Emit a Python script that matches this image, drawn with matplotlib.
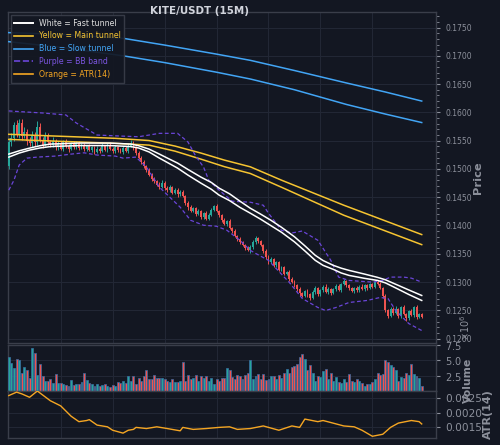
import numpy as np
import matplotlib
matplotlib.use('Agg')
import matplotlib.pyplot as plt
from matplotlib.lines import Line2D
from matplotlib.ticker import MultipleLocator, FormatStrFormatter, ScalarFormatter

BG = '#131722'
GRID = '#232836'
SPINE = '#3a3e4a'
TXT = '#8c909b'
UP = '#26a69a'
DOWN = '#ef5350'
WHITE = '#ffffff'
YELLOW = '#f6c431'
BLUE = '#42a5f5'
PURPLE = '#6a45d8'
ORANGE = '#f5a623'

title = 'KITE/USDT (15M)'

# 15m candles (price), opens follow previous close
first_open = 0.1505
closes = [
    0.1548, 0.1555, 0.1578, 0.1562, 0.1582, 0.1558, 0.1566, 0.1550, 0.1545, 0.1560,
    0.1548, 0.1575, 0.1552, 0.1543, 0.1558, 0.1547, 0.1542, 0.1550, 0.1538, 0.1545,
    0.1536, 0.1548, 0.1540, 0.1535, 0.1544, 0.1539, 0.1546, 0.1537, 0.1542, 0.1535,
    0.1540, 0.1533, 0.1538, 0.1530, 0.1536, 0.1532, 0.1540, 0.1534, 0.1543, 0.1536,
    0.1531, 0.1539, 0.1534, 0.1530, 0.1537, 0.1532, 0.1541, 0.1546, 0.1538, 0.1528,
    0.1520, 0.1512, 0.1505, 0.1498, 0.1490, 0.1483, 0.1478, 0.1472, 0.1468, 0.1475,
    0.1466, 0.1462, 0.1468, 0.1458, 0.1463, 0.1455, 0.1460, 0.1452, 0.1440, 0.1432,
    0.1426, 0.1430, 0.1420, 0.1425, 0.1415, 0.1422, 0.1412, 0.1418, 0.1428, 0.1435,
    0.1425, 0.1418, 0.1410, 0.1402, 0.1408, 0.1396, 0.1390, 0.1382, 0.1376, 0.1370,
    0.1365, 0.1360, 0.1356, 0.1362, 0.1370, 0.1378, 0.1372, 0.1366, 0.1355, 0.1345,
    0.1335, 0.1340, 0.1330, 0.1335, 0.1322, 0.1326, 0.1315, 0.1318, 0.1306, 0.1300,
    0.1295, 0.1288, 0.1280, 0.1276, 0.1284, 0.1278, 0.1272, 0.1282, 0.1290, 0.1278,
    0.1285, 0.1292, 0.1283, 0.1288, 0.1280, 0.1287, 0.1293, 0.1286, 0.1296, 0.1301,
    0.1295, 0.1289, 0.1284, 0.1290, 0.1285, 0.1292, 0.1287, 0.1294, 0.1289, 0.1296,
    0.1292, 0.1300, 0.1297, 0.1290, 0.1275, 0.1250, 0.1240, 0.1252, 0.1245, 0.1252,
    0.1240, 0.1255, 0.1243, 0.1236, 0.1248, 0.1242, 0.1256, 0.1238, 0.1244, 0.1239,
]
# wick lengths above / below the body, in units of 0.0001
upper_wick = [
    6, 8, 5, 9, 7, 6, 8, 5, 6, 7, 5, 9, 6, 4, 7, 5, 4, 6, 3, 5,
    4, 3, 5, 4, 3, 5, 3, 4, 3, 4, 3, 4, 2, 3, 4, 3, 5, 2, 3, 4,
    3, 4, 2, 3, 4, 3, 5, 6, 3, 2, 3, 2, 3, 2, 4, 3, 2, 3, 4, 5,
    3, 4, 3, 2, 4, 3, 2, 3, 2, 3, 4, 3, 2, 4, 3, 2, 3, 4, 3, 2,
    3, 2, 3, 4, 2, 3, 2, 3, 2, 3, 2, 3, 4, 3, 4, 3, 2, 3, 2, 3,
    2, 4, 3, 2, 3, 2, 3, 2, 3, 2, 3, 2, 4, 3, 2, 3, 2, 4, 3, 2,
    3, 2, 4, 3, 2, 3, 4, 3, 2, 4, 3, 2, 3, 2, 3, 2, 4, 3, 2, 3,
    2, 4, 3, 3, 2, 3, 2, 4, 3, 5, 2, 3, 4, 2, 3, 4, 2, 3, 2, 2,
]
lower_wick = [
    5, 7, 6, 5, 8, 6, 4, 7, 5, 6, 8, 5, 4, 6, 3, 5, 4, 3, 5, 4,
    3, 4, 3, 5, 2, 3, 4, 3, 2, 4, 3, 2, 3, 4, 2, 3, 2, 3, 4, 2,
    3, 2, 4, 2, 3, 2, 3, 2, 4, 3, 2, 4, 3, 3, 2, 4, 3, 2, 3, 2,
    4, 2, 3, 3, 2, 4, 3, 2, 3, 4, 2, 3, 4, 2, 3, 4, 2, 3, 2, 3,
    2, 3, 4, 2, 3, 2, 3, 2, 4, 3, 2, 3, 2, 4, 3, 2, 3, 2, 3, 4,
    3, 2, 3, 4, 2, 3, 2, 3, 4, 2, 3, 4, 5, 3, 2, 4, 3, 2, 3, 2,
    2, 3, 2, 4, 3, 2, 3, 2, 3, 2, 3, 4, 2, 3, 2, 3, 2, 3, 4, 2,
    3, 2, 3, 2, 3, 3, 4, 2, 3, 2, 4, 3, 2, 5, 3, 2, 4, 3, 2, 3,
]
# volume, millions
volume_m = [
    5.57, 4.52, 3.72, 5.2, 5.05, 2.92, 3.98, 3.45, 2.13, 7.06,
    6.2, 2.66, 4.36, 2.5, 1.6, 1.6, 1.97, 1.33, 2.77, 1.23,
    1.33, 1.07, 0.91, 0.8, 1.7, 0.91, 1.07, 1.07, 1.44, 2.92,
    1.76, 1.2, 1.07, 0.8, 1.07, 0.7, 0.91, 1.07, 0.8, 0.54,
    0.91, 0.8, 1.44, 1.23, 1.6, 1.33, 2.4, 1.6, 2.5, 1.07,
    2.13, 1.6, 2.4, 3.35, 1.97, 1.86, 2.66, 2.13, 2.13, 2.13,
    1.97, 1.6, 1.5, 1.97, 1.44, 1.44, 1.6, 4.78, 1.6, 2.66,
    1.86, 2.13, 2.66, 1.6, 2.5, 2.13, 2.4, 1.6, 2.13, 1.07,
    1.86, 1.6, 2.13, 2.13, 3.72, 3.35, 2.29, 1.97, 2.66, 2.4,
    1.86, 2.66, 2.92, 5.05, 1.97, 2.5, 2.77, 1.97, 2.77, 1.76,
    1.97, 2.5, 2.4, 1.86, 2.66, 2.13, 3.0, 3.56, 3.0, 3.88,
    4.09, 4.41, 5.57, 6.0, 5.3, 3.45, 4.25, 3.0, 1.6, 2.4,
    2.29, 3.19, 3.56, 1.86, 2.92, 1.6, 2.29, 1.5, 1.33, 1.97,
    1.44, 2.82, 1.6, 1.44, 1.86, 1.6, 1.33, 0.8, 1.17, 1.07,
    1.44, 1.86, 3.0, 2.66, 2.77, 5.15, 4.78, 4.25, 3.98, 3.45,
    1.6, 2.29, 2.13, 2.92, 2.66, 4.41, 2.82, 2.5, 2.13, 0.8,
]

# fast tunnel (white)
fast_idx = [0, 4, 8, 12, 16, 27, 39, 47, 50, 54, 58, 62, 65, 69, 74, 78, 81, 85, 89, 93,
            97, 101, 105, 110, 114, 118, 121, 125, 128, 131, 137, 142, 145, 149, 154, 159]
fast_a = [0.15262, 0.15320, 0.15368, 0.15410, 0.15439, 0.15457, 0.15457, 0.15439, 0.15410, 0.15350,
          0.15262, 0.15170, 0.15103, 0.14990, 0.14855, 0.14760, 0.14660, 0.14560, 0.14430, 0.14305,
          0.14200, 0.14090, 0.13968, 0.13800, 0.13640, 0.13472, 0.13380, 0.13294, 0.13245, 0.13206,
          0.13140, 0.13082, 0.13040, 0.12960, 0.12860, 0.12762]
fast_b = [0.15209, 0.15280, 0.15333, 0.15370, 0.15395, 0.15413, 0.15413, 0.15395, 0.15370, 0.15300,
          0.15191, 0.15090, 0.15014, 0.14890, 0.14748, 0.14640, 0.14536, 0.14440, 0.14320, 0.14217,
          0.14110, 0.13995, 0.13880, 0.13710, 0.13550, 0.13383, 0.13295, 0.13223, 0.13160, 0.13117,
          0.13065, 0.13028, 0.12985, 0.12895, 0.12780, 0.12674]

# main tunnel (yellow)
main_idx = [0, 41, 54, 64, 74, 83, 93, 105, 129, 159]
main_a = [0.15612, 0.15541, 0.15502, 0.15404, 0.15280, 0.15156, 0.15037, 0.14801, 0.14358, 0.13839]
main_b = [0.15522, 0.15452, 0.15421, 0.15314, 0.15173, 0.15040, 0.14919, 0.14676, 0.14181, 0.13661]

# slow tunnel (blue)
slow_idx = [0, 20, 44, 60, 80, 93, 110, 130, 145, 159]
slow_a = [0.1741, 0.1738, 0.1731, 0.1719, 0.1703, 0.1692, 0.1674, 0.1652, 0.1636, 0.1620]
slow_b = [0.1725, 0.1715, 0.1700, 0.1688, 0.1671, 0.1659, 0.1640, 0.1614, 0.1597, 0.1582]

# bollinger bands (purple)
bb_up_idx = [0, 13, 22, 26, 34, 43, 50, 54, 58, 65, 69, 72, 75, 77, 81, 86, 93, 98, 100, 105,
             109, 113, 119, 124, 127, 131, 140, 144, 147, 152, 155, 159]
bb_up = [0.16025, 0.15989, 0.15954, 0.15812, 0.15599, 0.15581, 0.15569, 0.15599, 0.15629, 0.15629,
         0.15475, 0.15227, 0.15032, 0.14801, 0.14624, 0.14429, 0.14411, 0.14358, 0.14216, 0.13915,
         0.13867, 0.13902, 0.13738, 0.13383, 0.13087, 0.13028, 0.12998, 0.13028, 0.13087, 0.13087,
         0.13069, 0.12998]
bb_lo_idx = [0, 2, 4, 7, 11, 18, 24, 29, 34, 41, 44, 49, 53, 58, 62, 66, 70, 75, 80, 84,
             89, 93, 95, 100, 108, 113, 119, 122, 126, 131, 138, 143, 146, 149, 154, 159]
bb_lo = [0.14624, 0.14801, 0.15067, 0.15191, 0.15209, 0.15227, 0.15262, 0.15285, 0.15245, 0.15227,
         0.15191, 0.15209, 0.15032, 0.14677, 0.14500, 0.14323, 0.14092, 0.14004, 0.13986, 0.13915,
         0.13738, 0.13560, 0.13507, 0.13383, 0.12993, 0.12709, 0.12550, 0.12496, 0.12550, 0.12638,
         0.12674, 0.12727, 0.12709, 0.12496, 0.12266, 0.12142]

# ATR(14)
atr_idx = [0, 3, 5, 8, 11, 16, 20, 24, 27, 30, 31, 34, 38, 40, 44, 46, 48, 49, 53, 57,
           61, 66, 67, 71, 76, 81, 85, 88, 93, 98, 104, 109, 112, 114, 119, 121, 124, 129, 133, 136,
           140, 144, 147, 150, 155, 158, 159]
atr = [0.00260, 0.00272, 0.00266, 0.00254, 0.00276, 0.00242, 0.00224, 0.00188, 0.00169, 0.00173,
       0.00176, 0.00157, 0.00151, 0.00139, 0.00129, 0.00139, 0.00142, 0.00149, 0.00145, 0.00151,
       0.00145, 0.00137, 0.00149, 0.00142, 0.00145, 0.00149, 0.00151, 0.00142, 0.00145, 0.00154,
       0.00139, 0.00154, 0.00149, 0.00178, 0.00169, 0.00173, 0.00166, 0.00154, 0.00151, 0.00139,
       0.00118, 0.00125, 0.00149, 0.00164, 0.00173, 0.00169, 0.00161]


def style_axis(ax):
    ax.set_facecolor(BG)
    for s in ax.spines.values():
        s.set_color(SPINE)
        s.set_linewidth(1.0)
    ax.yaxis.tick_right()
    ax.yaxis.set_label_position('right')
    ax.tick_params(axis='x', length=0, labelbottom=False)
    ax.tick_params(axis='y', colors=TXT, length=3, width=0.8)
    ax.set_xticks([20, 40, 60, 80, 100, 120, 140])
    ax.grid(True, color=GRID, linewidth=0.7)
    ax.set_axisbelow(True)
    ax.set_xlim(-0.3, 164.5)


def main():
    n = len(closes)
    x = np.arange(n)
    c = np.array(closes)
    o = np.array([first_open] + closes[:-1])
    hi = np.maximum(o, c) + np.array(upper_wick) * 1e-4
    lo = np.minimum(o, c) - np.array(lower_wick) * 1e-4
    colors = [UP if cc >= oo else DOWN for oo, cc in zip(o, c)]

    fig = plt.figure(figsize=(5.0, 4.45), dpi=100, facecolor=BG)
    ax = fig.add_axes([0.016, 0.2299, 0.856, 0.7438])
    ax_v = fig.add_axes([0.016, 0.1220, 0.856, 0.1027])
    ax_a = fig.add_axes([0.016, 0.0164, 0.856, 0.1056])
    for a in (ax, ax_v, ax_a):
        style_axis(a)

    # price panel
    ax.vlines(x, lo, hi, colors=colors, linewidth=0.7, zorder=2)
    ax.bar(x, np.maximum(np.abs(c - o), 0.00003), bottom=np.minimum(o, c), width=0.72,
           color=colors, linewidth=0, zorder=3)
    ax.plot(slow_idx, slow_a, color=BLUE, lw=1.1, zorder=4)
    ax.plot(slow_idx, slow_b, color=BLUE, lw=1.1, zorder=4)
    ax.plot(main_idx, main_a, color=YELLOW, lw=1.1, zorder=4)
    ax.plot(main_idx, main_b, color=YELLOW, lw=1.1, zorder=4)
    ax.plot(fast_idx, fast_a, color=WHITE, lw=1.1, zorder=5)
    ax.plot(fast_idx, fast_b, color=WHITE, lw=1.1, zorder=5)
    ax.plot(bb_up_idx, bb_up, color=PURPLE, lw=0.9, ls=(0, (3, 2)), zorder=4)
    ax.plot(bb_lo_idx, bb_lo, color=PURPLE, lw=0.9, ls=(0, (3, 2)), zorder=4)

    ax.set_ylim(0.11927, 0.1778)
    ax.yaxis.set_major_locator(MultipleLocator(0.005))
    ax.yaxis.set_minor_locator(MultipleLocator(0.001))
    ax.yaxis.set_major_formatter(FormatStrFormatter('%.4f'))
    ax.tick_params(axis='y', which='major', labelsize=5.5)
    ax.tick_params(axis='y', which='minor', colors=TXT, length=2, width=0.6)
    ax.set_ylabel('Price', color=TXT, fontsize=8.2, fontweight='bold')
    ax.yaxis.set_label_coords(1.086, 0.5)

    handles = [
        Line2D([], [], color=WHITE, lw=1.4, label='White = Fast tunnel'),
        Line2D([], [], color=YELLOW, lw=1.2, label='Yellow = Main tunnel'),
        Line2D([], [], color=BLUE, lw=1.2, label='Blue = Slow tunnel'),
        Line2D([], [], color=PURPLE, lw=1.2, ls='--', label='Purple = BB band'),
        Line2D([], [], color=ORANGE, lw=1.2, label='Orange = ATR(14)'),
    ]
    leg = ax.legend(handles=handles, loc='upper left', bbox_to_anchor=(0.007, 0.99),
                    borderaxespad=0, fontsize=5.6, handlelength=2.4, handletextpad=0.7,
                    labelspacing=0.5, borderpad=0.45, facecolor=BG, edgecolor=SPINE,
                    framealpha=0.92, fancybox=False)
    leg.set_zorder(10)
    for t, col in zip(leg.get_texts(), ['#e0e0e0', YELLOW, BLUE, '#7b55e0', ORANGE]):
        t.set_color(col)

    fig.text(0.40, 0.975, title, color='#d1d4dc', fontsize=7.4, fontweight='bold',
             ha='center', va='center')

    # volume panel
    ax_v.bar(x, np.array(volume_m) * 1e6, width=0.75, color=colors,
             edgecolor='#3a6ea5', linewidth=0.5, zorder=3)
    ax_v.set_ylim(0, 7.55e6)
    ax_v.set_yticks([2.5e6, 5.0e6, 7.5e6])
    fmt = ScalarFormatter(useMathText=True)
    fmt.set_powerlimits((0, 0))
    ax_v.yaxis.set_major_formatter(fmt)
    ax_v.tick_params(axis='y', labelsize=7)
    off = ax_v.yaxis.get_offset_text()
    off.set_rotation(90)
    off.set_fontsize(7)
    off.set_color(TXT)
    off.set_x(1.085)
    off.set_verticalalignment('bottom')
    ax_v.set_ylabel('Volume', color=TXT, fontsize=7.8, fontweight='bold')
    ax_v.yaxis.set_label_coords(1.063, 0.234)

    # ATR panel
    ax_a.plot(atr_idx, atr, color=ORANGE, lw=1.0, zorder=3)
    ax_a.set_ylim(0.00113, 0.00277)
    ax_a.set_yticks([0.0015, 0.0020, 0.0025])
    ax_a.yaxis.set_major_formatter(FormatStrFormatter('%.4f'))
    ax_a.tick_params(axis='y', labelsize=7.6)
    ax_a.set_ylabel('ATR(14)', color=TXT, fontsize=8, fontweight='bold')
    ax_a.yaxis.set_label_coords(1.11, 0.5)

    fig.savefig('out.png', dpi=100, facecolor=BG)


if __name__ == '__main__':
    main()
